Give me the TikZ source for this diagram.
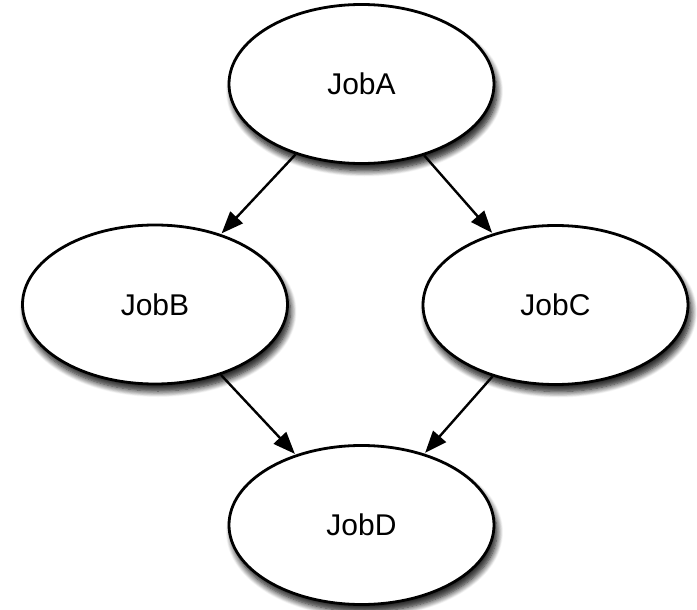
\documentclass[tikz,border=0pt]{standalone}
\usepackage{fontspec}
\setmainfont{Liberation Sans}
\usetikzlibrary{arrows.meta,shapes.geometric,shadows.blur}
\tikzset{
  job/.style={ellipse, draw=black, line width=2.8pt, fill=white,
    minimum width=265pt, minimum height=159pt, inner sep=0pt,
    font=\fontsize{30}{36}\selectfont,
    blur shadow={shadow xshift=4pt, shadow yshift=-10pt, shadow blur radius=8pt, shadow opacity=100, shadow blur steps=10},
    blur shadow={shadow xshift=3pt, shadow yshift=-7pt, shadow blur radius=6pt, shadow opacity=60, shadow blur steps=8}},
  link/.style={line width=2.4pt, -{Triangle[length=22pt,width=17pt]}, shorten >=1pt}
}
\begin{document}
\begin{tikzpicture}[x=1pt,y=-1pt]
\useasboundingbox (0,0) rectangle (697,610);
\node[job] (A) at (361.5,84) {JobA};
\node[job] (B) at (155,304.5) {JobB};
\node[job] (C) at (555.5,305) {JobC};
\node[job] (D) at (361.5,525) {JobD};
\draw[link] (A) -- (B);
\draw[link] (A) -- (C);
\draw[link] (B) -- (D);
\draw[link] (C) -- (D);
\end{tikzpicture}
\end{document}
